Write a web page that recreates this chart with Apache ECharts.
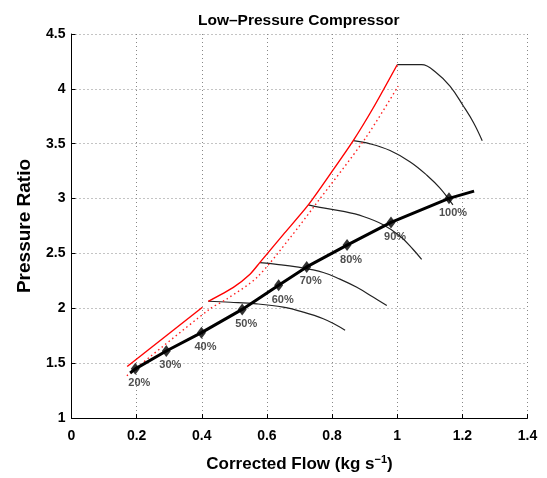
<!DOCTYPE html>
<html>
<head>
<meta charset="utf-8">
<script src="https://cdn.jsdelivr.net/npm/echarts@6/dist/echarts.min.js"></script>
<style>
  html, body { margin: 0; padding: 0; background: #fff; }
  #chart { width: 547px; height: 478px; }
</style>
</head>
<body>
<div id="chart"></div>
<script>
// operating line (thick black), marker points and their labels
var opLine = [[0.18, 1.41], [0.196, 1.448], [0.291, 1.611], [0.399, 1.778], [0.524, 1.99],
  [0.636, 2.211], [0.722, 2.377], [0.846, 2.576], [0.981, 2.783], [1.159, 3.002], [1.236, 3.068]]
var opMarks = [[0.196, 1.448], [0.291, 1.611], [0.399, 1.778], [0.524, 1.99], [0.636, 2.211],
  [0.722, 2.377], [0.846, 2.576], [0.981, 2.783], [1.159, 3.002]]
var speedLabels = ['20%', '30%', '40%', '50%', '60%', '70%', '80%', '90%', '100%']

// speed lines (thin black)
var speed60 = [[0.42, 2.064], [0.487, 2.055], [0.569, 2.04], [0.65, 2.01], [0.712, 1.965],
  [0.773, 1.905], [0.814, 1.845], [0.84, 1.8]]
var speed70 = [[0.578, 2.416], [0.63, 2.401], [0.691, 2.377], [0.773, 2.326], [0.824, 2.266],
  [0.876, 2.191], [0.927, 2.1], [0.968, 2.026]]
var speed80 = [[0.727, 2.942], [0.763, 2.919], [0.835, 2.883], [0.896, 2.837], [0.957, 2.762],
  [1.009, 2.657], [1.049, 2.536], [1.075, 2.446]]
var speed90 = [[0.865, 3.528], [0.917, 3.499], [0.978, 3.438], [1.04, 3.334], [1.091, 3.213],
  [1.132, 3.093], [1.171, 2.942]]
var speed100 = [[1.0, 4.22], [1.075, 4.22], [1.121, 4.145], [1.162, 4.025], [1.203, 3.844],
  [1.234, 3.694], [1.261, 3.528]]

// surge lines (red)
var surgeLow = [[0.171, 1.469], [0.402, 2.01]]
var surgeHigh = [[0.42, 2.064], [0.497, 2.191], [0.548, 2.311], [0.578, 2.416], [0.65, 2.671],
  [0.727, 2.942], [0.799, 3.243], [0.865, 3.528], [0.927, 3.83], [1.0, 4.22]]
var surgeDotted = [[0.17, 1.385], [0.425, 1.995], [0.477, 2.085], [0.569, 2.281], [0.671, 2.642],
  [0.748, 2.941], [0.901, 3.544], [1.003, 4.025]]

var font = 'Liberation Sans, Arial, Helvetica, sans-serif'

function thin (data) {
  return {
    type: 'line', data: data, smooth: 0.4, showSymbol: false, silent: true,
    lineStyle: { color: '#222', width: 1.2 }
  }
}

var chart = echarts.init(document.getElementById('chart'))
var option = {
  animation: false,
  title: {
    text: 'Low\u2013Pressure Compressor',
    left: 193, top: 8,
    textStyle: { fontFamily: font, fontSize: 15.5, fontWeight: 'bold', color: '#000' }
  },
  grid: { left: 71.5, right: 19.5, top: 34, bottom: 56 },
  xAxis: {
    type: 'value', min: 0, max: 1.4, interval: 0.2,
    name: 'Corrected Flow (kg s{sup|\u22121})',
    nameLocation: 'middle', nameGap: 36,
    nameTextStyle: {
      fontFamily: font, fontSize: 17, fontWeight: 'bold', color: '#000',
      rich: { sup: { fontFamily: font, fontSize: 11, fontWeight: 'bold', verticalAlign: 'top', padding: [0, 0, 10, 0] } }
    },
    axisLine: { lineStyle: { color: '#000', width: 1 } },
    axisTick: { inside: true, length: 4, lineStyle: { color: '#000' } },
    axisLabel: { fontFamily: font, fontSize: 14, fontWeight: 'bold', color: '#000', margin: 11 },
    splitLine: { show: true, lineStyle: { type: [1, 3], color: '#888', width: 1 } }
  },
  yAxis: {
    type: 'value', min: 1, max: 4.5, interval: 0.5,
    name: 'Pressure Ratio',
    nameLocation: 'middle', nameGap: 37,
    nameTextStyle: { fontFamily: font, fontSize: 19, fontWeight: 'bold', color: '#000' },
    axisLine: { show: true, lineStyle: { color: '#000', width: 1 } },
    axisTick: { show: true, inside: true, length: 4, lineStyle: { color: '#000' } },
    axisLabel: { fontFamily: font, fontSize: 14, fontWeight: 'bold', color: '#000', margin: 6 },
    splitLine: { show: true, lineStyle: { type: [1, 3], color: '#888', width: 1 } }
  },
  series: [
    thin(speed60), thin(speed70), thin(speed80), thin(speed90), thin(speed100),
    {
      type: 'line', data: surgeLow, showSymbol: false, silent: true,
      lineStyle: { color: '#ff0000', width: 1.4 }
    },
    {
      type: 'line', data: surgeHigh, smooth: 0.25, showSymbol: false, silent: true,
      lineStyle: { color: '#ff0000', width: 1.4 }
    },
    {
      type: 'line', data: surgeDotted, smooth: 0.3, showSymbol: false, silent: true,
      lineStyle: { color: '#ff2020', width: 1.4, type: [1.5, 3] }
    },
    {
      type: 'line', data: opLine, showSymbol: false, silent: true, z: 5,
      lineStyle: { color: '#000', width: 3 }
    },
    {
      type: 'scatter', data: opMarks, symbol: 'diamond', symbolSize: [9, 12], z: 6,
      itemStyle: { color: '#000' },
      label: {
        show: true, position: 'bottom', distance: 3, offset: [4, 0],
        formatter: function (p) { return speedLabels[p.dataIndex] },
        fontFamily: font, fontSize: 11, fontWeight: 'bold', color: '#222'
      }
    }
  ]
}
chart.setOption(option)
</script>
</body>
</html>
